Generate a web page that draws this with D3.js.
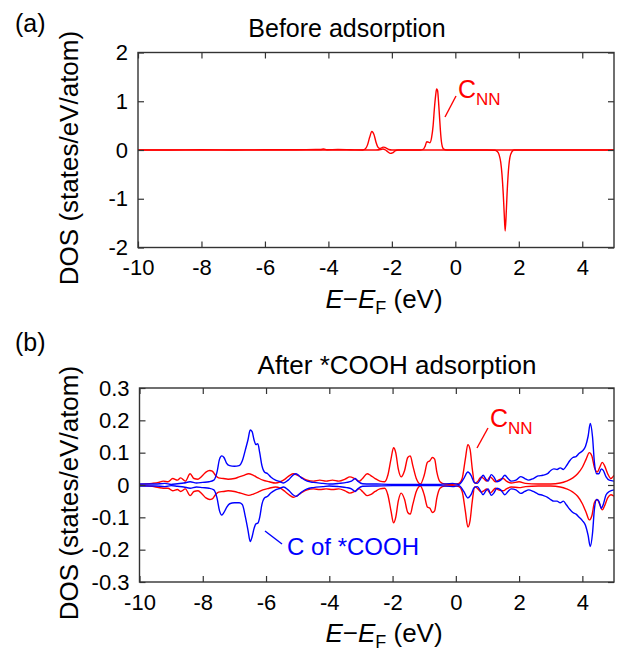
<!DOCTYPE html>
<html><head><meta charset="utf-8">
<script src="https://cdn.jsdelivr.net/npm/d3@7"></script>
<style>
body{margin:0;background:#fff;}
svg{display:block;font-family:"Liberation Sans",Arial,Helvetica,sans-serif;}
</style></head>
<body><svg id="chart" width="617" height="654"></svg>
<script>
// ---------------- DATA ----------------
const xTicks = [-10,-8,-6,-4,-2,0,2,4];
const xTickLabels = ["-10","-8","-6","-4","-2","0","2","4"];
const yTicksA = [-2,-1,0,1,2];
const yTickLabelsA = ["-2","-1","0","1","2"];
const yTicksB = [-0.3,-0.2,-0.1,0,0.1,0.2,0.3];
const yTickLabelsB = ["-0.3","-0.2","-0.1","0","0.1","0.2","0.3"];

// Panel (a): C_NN before adsorption, spin up
const aUpE = [-10,-9,-8,-7,-6,-5,-4.4,-4.25,-4.15,-4.05,-3.7,-3.3,-2.92,-2.84,-2.77,-2.7,-2.63,-2.56,-2.5,-2.44,-2.38,-2.31,-2.25,-2.18,-2.1,-2.0,-1.5,-1.1,-1.0,-0.95,-0.9,-0.85,-0.8,-0.75,-0.7,-0.66,-0.62,-0.59,-0.56,-0.53,-0.5,-0.47,-0.44,-0.41,-0.37,-0.32,-0.2,0.5,1,2,3,4,5];
const aUp  = [0,0,0.005,0,0.005,0.005,0.01,0.01,0.02,0.005,0.01,0.005,0,0.02,0.1,0.26,0.38,0.31,0.16,0.06,0.03,0.05,0.06,0.04,0.01,0,0,0,0.02,0.08,0.17,0.16,0.15,0.25,0.5,0.85,1.12,1.25,1.22,1.0,0.7,0.4,0.18,0.07,0.02,0.005,0,0,0,0,0,0,0];
// Panel (a): spin down
const aDnE = [-10,-8,-6,-4,-2.5,-2.35,-2.28,-2.2,-2.12,-2.05,-1.98,-1.9,-1.8,-1,0,1.0,1.25,1.32,1.38,1.43,1.47,1.51,1.54,1.57,1.6,1.63,1.67,1.72,1.78,1.85,2.0,3,4,5];
const aDn  = [0,0,0,0,0,0.01,0.02,0.0,-0.04,-0.07,-0.06,-0.02,0,0,0,0,-0.005,-0.03,-0.1,-0.25,-0.5,-0.9,-1.3,-1.66,-1.35,-0.9,-0.45,-0.15,-0.04,0,0,0,0,0];

// Panel (b): C_NN after *COOH adsorption
const bRedUpE = [-10,-9.6,-9.4,-9.25,-9.1,-8.95,-8.8,-8.7,-8.55,-8.4,-8.28,-8.15,-8.03,-7.9,-7.78,-7.7,-7.6,-7.5,-7.35,-7.2,-7.0,-6.85,-6.7,-6.55,-6.4,-6.25,-6.1,-5.9,-5.7,-5.55,-5.4,-5.25,-5.13,-5.0,-4.85,-4.7,-4.5,-4.3,-4.1,-3.9,-3.7,-3.5,-3.35,-3.2,-3.05,-2.95,-2.8,-2.7,-2.55,-2.4,-2.25,-2.15,-2.05,-1.97,-1.9,-1.82,-1.73,-1.62,-1.52,-1.44,-1.36,-1.25,-1.12,-1.0,-0.9,-0.82,-0.74,-0.67,-0.6,-0.5,-0.35,-0.1,0.1,0.2,0.3,0.38,0.45,0.52,0.6,0.7,0.8,0.88,0.98,1.08,1.15,1.25,1.35,1.5,1.6,1.75,2.0,2.2,2.6,3.0,3.3,3.5,3.7,3.85,4.0,4.12,4.22,4.3,4.38,4.47,4.55,4.63,4.7,4.8,4.9,5.0];
const bRedUp  = [0.002,0.005,0.008,0.012,0.01,0.02,0.015,0.022,0.012,0.035,0.02,0.018,0.027,0.04,0.045,0.043,0.03,0.022,0.02,0.018,0.02,0.025,0.03,0.035,0.03,0.022,0.015,0.01,0.006,0.01,0.018,0.03,0.035,0.03,0.022,0.015,0.012,0.015,0.012,0.015,0.012,0.018,0.025,0.02,0.012,0.02,0.035,0.03,0.02,0.012,0.01,0.03,0.08,0.115,0.1,0.05,0.025,0.045,0.085,0.09,0.06,0.02,0.003,0.03,0.07,0.075,0.085,0.08,0.04,0.01,0.003,0.002,0.005,0.02,0.08,0.125,0.11,0.05,0.005,0.012,0.025,0.02,0.012,0.025,0.02,0.01,0.015,0.02,0.012,0.006,0.01,0.005,0.003,0.003,0.006,0.012,0.022,0.035,0.055,0.08,0.1,0.09,0.055,0.04,0.055,0.07,0.06,0.035,0.02,0.03];
const bRedDnE = [-10,-9.6,-9.4,-9.25,-9.1,-8.95,-8.8,-8.7,-8.55,-8.4,-8.28,-8.15,-8.03,-7.9,-7.78,-7.7,-7.6,-7.5,-7.35,-7.2,-7.0,-6.85,-6.7,-6.55,-6.4,-6.25,-6.1,-5.9,-5.7,-5.55,-5.4,-5.25,-5.13,-5.0,-4.85,-4.7,-4.5,-4.3,-4.1,-3.9,-3.7,-3.5,-3.35,-3.2,-3.05,-2.95,-2.8,-2.7,-2.55,-2.4,-2.25,-2.15,-2.05,-1.97,-1.9,-1.82,-1.73,-1.62,-1.52,-1.44,-1.36,-1.25,-1.12,-1.0,-0.9,-0.82,-0.74,-0.67,-0.6,-0.5,-0.35,-0.1,0.1,0.2,0.3,0.38,0.45,0.52,0.6,0.7,0.8,0.88,0.98,1.08,1.15,1.25,1.35,1.5,1.6,1.75,2.0,2.2,2.6,3.0,3.3,3.5,3.7,3.85,4.0,4.12,4.22,4.3,4.38,4.47,4.55,4.63,4.7,4.8,4.9,5.0];
const bRedDn  = [-0.002,-0.004,-0.008,-0.01,-0.01,-0.018,-0.014,-0.02,-0.012,-0.033,-0.02,-0.018,-0.027,-0.04,-0.045,-0.043,-0.03,-0.022,-0.02,-0.018,-0.02,-0.024,-0.028,-0.032,-0.028,-0.022,-0.015,-0.01,-0.006,-0.01,-0.02,-0.032,-0.038,-0.032,-0.022,-0.015,-0.012,-0.014,-0.012,-0.014,-0.012,-0.018,-0.025,-0.02,-0.012,-0.02,-0.033,-0.03,-0.02,-0.012,-0.01,-0.03,-0.08,-0.117,-0.1,-0.05,-0.025,-0.045,-0.085,-0.09,-0.06,-0.02,-0.003,-0.03,-0.068,-0.072,-0.085,-0.08,-0.04,-0.01,-0.003,-0.002,-0.005,-0.02,-0.08,-0.13,-0.11,-0.05,-0.005,-0.012,-0.022,-0.018,-0.012,-0.025,-0.02,-0.01,-0.015,-0.018,-0.012,-0.006,-0.008,-0.005,-0.003,-0.003,-0.006,-0.012,-0.022,-0.035,-0.058,-0.085,-0.108,-0.095,-0.055,-0.045,-0.06,-0.077,-0.065,-0.04,-0.03,-0.035];

// Panel (b): C of *COOH
const bBlueUpE = [-10,-9.5,-9.2,-9.0,-8.8,-8.6,-8.4,-8.2,-8.0,-7.8,-7.65,-7.55,-7.47,-7.4,-7.33,-7.25,-7.15,-7.0,-6.85,-6.75,-6.65,-6.57,-6.5,-6.44,-6.38,-6.32,-6.26,-6.2,-6.13,-6.05,-5.95,-5.85,-5.7,-5.55,-5.45,-5.3,-5.15,-5.05,-4.95,-4.85,-4.7,-4.5,-4.2,-4.0,-3.7,-3.45,-3.3,-3.18,-3.1,-2.95,-2.5,-2.0,-1.5,-1.0,-0.5,-0.1,0.1,0.25,0.38,0.48,0.58,0.68,0.78,0.86,0.95,1.02,1.12,1.2,1.3,1.42,1.55,1.65,1.75,1.9,2.05,2.18,2.3,2.45,2.6,2.75,2.9,3.0,3.1,3.2,3.3,3.4,3.5,3.6,3.7,3.8,3.9,4.0,4.1,4.18,4.25,4.32,4.38,4.45,4.52,4.6,4.66,4.75,4.85,5.0];
const bBlueUp  = [0.003,0.003,0.005,0.002,0.004,0.006,0.01,0.006,0.008,0.01,0.015,0.04,0.08,0.09,0.085,0.068,0.06,0.058,0.06,0.075,0.11,0.14,0.17,0.165,0.14,0.125,0.128,0.1,0.06,0.04,0.035,0.025,0.015,0.01,0.006,0.015,0.03,0.035,0.028,0.02,0.012,0.008,0.005,0.003,0.005,0.008,0.012,0.02,0.012,0.004,0.003,0.002,0.002,0.002,0.002,0.005,0.002,0.02,0.04,0.03,0.008,0.005,0.018,0.03,0.018,0.012,0.032,0.025,0.01,0.015,0.03,0.02,0.012,0.015,0.026,0.02,0.015,0.02,0.028,0.03,0.035,0.045,0.05,0.048,0.053,0.048,0.06,0.075,0.085,0.088,0.098,0.105,0.12,0.15,0.19,0.15,0.07,0.035,0.035,0.05,0.045,0.025,0.015,0.012];
const bBlueDnE = [-10,-9.5,-9.2,-9.0,-8.8,-8.6,-8.4,-8.2,-8.0,-7.8,-7.65,-7.55,-7.47,-7.4,-7.33,-7.25,-7.15,-7.0,-6.85,-6.75,-6.65,-6.57,-6.5,-6.44,-6.38,-6.32,-6.26,-6.2,-6.13,-6.05,-5.95,-5.85,-5.7,-5.55,-5.45,-5.3,-5.15,-5.05,-4.95,-4.85,-4.7,-4.5,-4.2,-4.0,-3.7,-3.45,-3.3,-3.18,-3.1,-2.95,-2.5,-2.0,-1.5,-1.0,-0.5,-0.1,0.1,0.25,0.38,0.48,0.58,0.68,0.78,0.86,0.95,1.02,1.12,1.2,1.3,1.42,1.55,1.65,1.75,1.9,2.05,2.18,2.3,2.45,2.6,2.75,2.9,3.0,3.1,3.2,3.3,3.4,3.5,3.6,3.7,3.8,3.9,4.0,4.1,4.18,4.25,4.32,4.38,4.45,4.52,4.6,4.66,4.75,4.85,5.0];
const bBlueDn  = [-0.003,-0.003,-0.005,-0.002,-0.004,-0.006,-0.01,-0.006,-0.008,-0.01,-0.015,-0.04,-0.08,-0.093,-0.085,-0.07,-0.058,-0.055,-0.055,-0.06,-0.1,-0.14,-0.175,-0.16,-0.135,-0.12,-0.118,-0.1,-0.06,-0.04,-0.035,-0.025,-0.015,-0.01,-0.006,-0.015,-0.03,-0.035,-0.028,-0.02,-0.012,-0.008,-0.005,-0.003,-0.005,-0.008,-0.012,-0.02,-0.012,-0.004,-0.003,-0.002,-0.002,-0.002,-0.002,-0.005,-0.002,-0.02,-0.04,-0.03,-0.008,-0.005,-0.018,-0.03,-0.018,-0.012,-0.032,-0.025,-0.01,-0.015,-0.03,-0.02,-0.012,-0.015,-0.026,-0.02,-0.015,-0.02,-0.028,-0.032,-0.038,-0.045,-0.05,-0.05,-0.055,-0.05,-0.062,-0.075,-0.085,-0.09,-0.1,-0.11,-0.125,-0.155,-0.19,-0.15,-0.075,-0.045,-0.05,-0.072,-0.06,-0.03,-0.02,-0.015];

// ---------------- DRAW ----------------
const svg = d3.select("#chart");
const FONT = "Liberation Sans, Arial, sans-serif";
const RED = "#ff0000", BLUE = "#0000ff", FRAME = "#333333";

function panel(o){
  const x = d3.scaleLinear().domain([-10,5]).range([o.left,o.right]);
  const y = d3.scaleLinear().domain(o.yDomain).range([o.bottom,o.top]);
  const g = svg.append("g");
  const cid = "clip"+o.id;
  svg.append("clipPath").attr("id",cid).append("rect")
    .attr("x",o.left).attr("y",o.top).attr("width",o.right-o.left).attr("height",o.bottom-o.top);
  const line = d3.line().x(d=>x(d[0])).y(d=>y(d[1])).curve(d3.curveMonotoneX);
  const lg = g.append("g").attr("clip-path",`url(#${cid})`);
  o.series.forEach(s=>{
    lg.append("path").datum(s.e.map((e,i)=>[e,s.v[i]]))
      .attr("d",line).attr("fill","none").attr("stroke",s.color)
      .attr("stroke-width",1.4).attr("stroke-linejoin","round");
  });
  const tl = 6;
  const bottom = d3.axisBottom(x).tickValues(xTicks).tickSizeInner(-tl).tickSizeOuter(0).tickPadding(12).tickFormat((d,i)=>xTickLabels[i]);
  const top = d3.axisTop(x).tickValues(xTicks).tickSizeInner(-tl).tickSizeOuter(0).tickFormat("");
  const left = d3.axisLeft(y).tickValues(o.yTicks).tickSizeInner(-tl).tickSizeOuter(0).tickPadding(10).tickFormat((d,i)=>o.yLabels[i]);
  const right = d3.axisRight(y).tickValues(o.yTicks).tickSizeInner(-tl).tickSizeOuter(0).tickFormat("");
  const ax = [
    g.append("g").attr("transform",`translate(0,${o.bottom})`).call(bottom),
    g.append("g").attr("transform",`translate(0,${o.top})`).call(top),
    g.append("g").attr("transform",`translate(${o.left},0)`).call(left),
    g.append("g").attr("transform",`translate(${o.right},0)`).call(right)
  ];
  ax.forEach(a=>{
    a.select(".domain").remove();
    a.selectAll("line").attr("stroke",FRAME).attr("stroke-width",1.2);
    a.selectAll("text").attr("font-family",FONT).attr("font-size",22).attr("fill","#000");
  });
  ax[0].selectAll("text").attr("dy","0.71em");
  g.append("rect").attr("x",o.left).attr("y",o.top).attr("width",o.right-o.left).attr("height",o.bottom-o.top)
    .attr("fill","none").attr("stroke",FRAME).attr("stroke-width",1.4);
  g.append("text").attr("x",o.titleX).attr("y",o.titleY).attr("text-anchor","middle")
    .attr("font-size",o.titleSize).attr("font-family",FONT).text(o.title);
  g.append("text").attr("x",15).attr("y",o.labelY).attr("font-size",25).attr("font-family",FONT).text(o.label);
  g.append("text").attr("transform",`translate(78,${(o.top+o.bottom)/2+8}) rotate(-90)`)
    .attr("text-anchor","middle").attr("font-size",26).attr("font-family",FONT).text("DOS (states/eV/atom)");
  const xt = g.append("text").attr("x",384).attr("y",o.bottom+60).attr("text-anchor","middle")
    .attr("font-size",26).attr("font-family",FONT);
  xt.append("tspan").attr("font-style","italic").text("E");
  xt.append("tspan").text("\u2212");
  xt.append("tspan").attr("font-style","italic").text("E");
  xt.append("tspan").attr("font-size",18).attr("dy",6).text("F");
  xt.append("tspan").attr("dy",-6).text(" (eV)");
  return {x,y,g};
}

function annot(g,x1,y1,x2,y2,tx,ty,main,sub,color,size){
  g.append("line").attr("x1",x1).attr("y1",y1).attr("x2",x2).attr("y2",y2)
    .attr("stroke",color).attr("stroke-width",1.4);
  const t = g.append("text").attr("x",tx).attr("y",ty).attr("font-size",size).attr("font-family",FONT).attr("fill",color);
  t.append("tspan").text(main);
  if(sub){ t.append("tspan").attr("font-size",17).attr("dy",7).text(sub); }
}

const pa = panel({id:"a", left:138, right:614, top:52.5, bottom:247.5, yDomain:[-2,2],
  yTicks:yTicksA, yLabels:yTickLabelsA, title:"Before adsorption", titleX:347, titleY:37, titleSize:25, label:"(a)", labelY:32,
  series:[{e:aUpE,v:aUp,color:RED},{e:aDnE,v:aDn,color:RED}]});
annot(pa.g,456,96,445,117,458,98,"C","NN",RED,25);

const pb = panel({id:"b", left:139.5, right:614, top:388, bottom:582, yDomain:[-0.3,0.3],
  yTicks:yTicksB, yLabels:yTickLabelsB, title:"After *COOH adsorption", titleX:397, titleY:374, titleSize:26, label:"(b)", labelY:351,
  series:[{e:bRedUpE,v:bRedUp,color:RED},{e:bRedDnE,v:bRedDn,color:RED},
          {e:bBlueUpE,v:bBlueUp,color:BLUE},{e:bBlueDnE,v:bBlueDn,color:BLUE}]});
annot(pb.g,488,428,477,448,490,427,"C","NN",RED,25);
annot(pb.g,265,531,282,544,287,555,"C of *COOH",null,BLUE,24);
</script></body></html>
